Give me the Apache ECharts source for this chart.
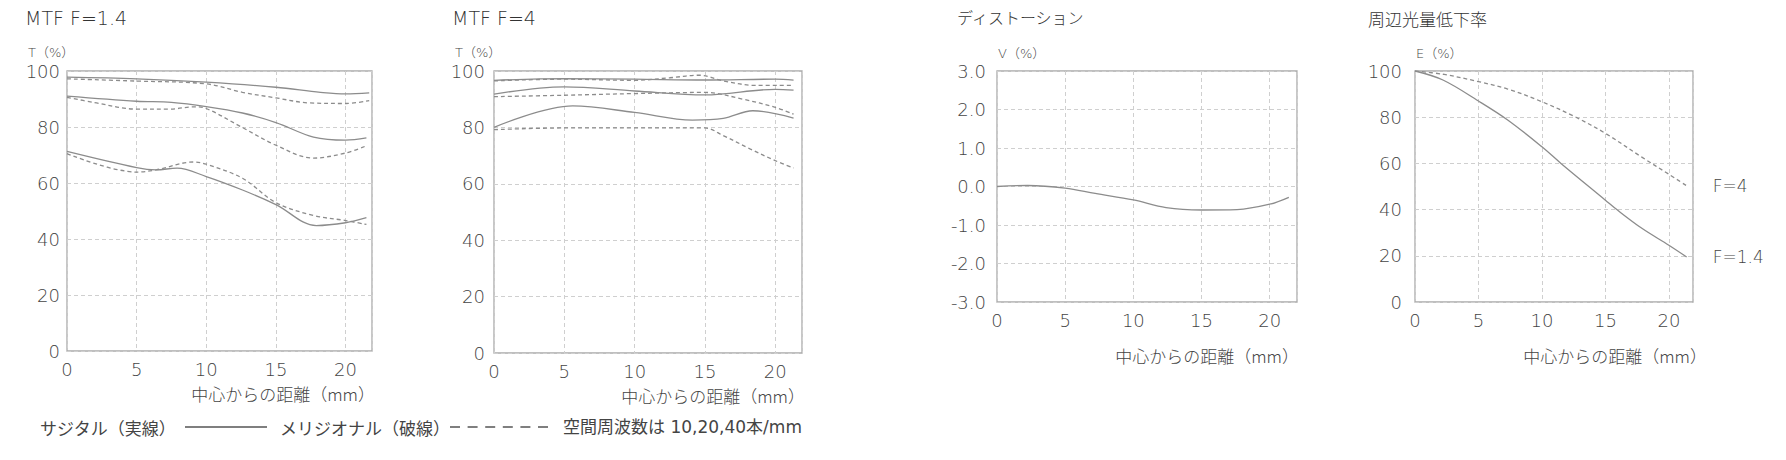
<!DOCTYPE html>
<html>
<head>
<meta charset="utf-8">
<script src="https://cdn.jsdelivr.net/npm/echarts@6/dist/echarts.min.js"></script>
<style>
html,body{margin:0;padding:0;background:#fff;}
#c{width:1786px;height:460px;}
</style>
</head>
<body>
<div id="c"></div>
<script>
// ---- Data ----
// MTF F=1.4 (x: distance from center mm, y: contrast %)
const f14Sag10 = [[0,97.8],[5,97.2],[10,96.0],[15,94.2],[18.2,92.4],[20,91.8],[21.7,92.2]];
const f14Mer10 = [[0,97.2],[5,96.4],[10,95.4],[12.6,92.4],[15,90.4],[17.4,88.6],[20,88.4],[21.7,89.4]];
const f14Sag20 = [[0,91.0],[5,89.2],[7.5,88.8],[10,87.3],[12.6,85.0],[15,81.6],[17.7,76.4],[20,75.3],[21.5,76.1]];
const f14Mer20 = [[0,90.6],[1.9,88.8],[5,86.4],[7.4,86.4],[9.1,87.2],[10,86.6],[12.6,79.8],[15,73.5],[17.7,68.9],[20,70.7],[21.5,73.3]];
const f14Sag40 = [[0,71.3],[5,65.5],[6.4,64.7],[7.9,65.3],[10,62.3],[12.6,57.5],[15,52.3],[17.9,44.8],[20,45.8],[21.5,47.6]];
const f14Mer40 = [[0,70.5],[5,63.9],[6.4,64.7],[9.1,67.5],[10,66.7],[12.6,61.7],[15,53.0],[17.7,48.4],[20,46.6],[21.5,45.2]];
// MTF F=4
const f4Sag10 = [[0,96.7],[5,97.3],[10,97.1],[15,96.8],[20,97.1],[21.3,96.8]];
const f4Mer10 = [[0,96.5],[5,97.1],[10,96.7],[12.5,97.6],[14.6,98.5],[16.3,96.5],[18.6,94.9],[21.3,94.9]];
const f4Sag20 = [[0,91.8],[5,94.4],[10,92.9],[15,91.5],[20,93.5],[21.3,93.2]];
const f4Mer20 = [[0,90.9],[5,91.4],[10,92.0],[15,92.4],[17.7,90.0],[20,87.1],[21.3,84.7]];
const f4Sag40 = [[0,80.0],[5.6,87.6],[10,85.3],[14.1,82.6],[16.3,83.2],[18.4,85.9],[21.3,83.3]];
const f4Mer40 = [[0,79.2],[5,79.8],[10,79.8],[15,79.8],[16.3,77.1],[18.2,72.4],[20,68.2],[21.3,65.6]];
// Distortion (%)
const distortion = [[0,0],[2.25,0.026],[5,-0.04],[7.2,-0.18],[10,-0.35],[12.4,-0.55],[15,-0.61],[17.6,-0.60],[20,-0.46],[21.4,-0.28]];
// Vignetting (%)
const vigF14 = [[0,100],[2.2,96.1],[5,87.0],[7.3,78.8],[10,67.2],[11.5,60.0],[15,44.1],[15.9,40.0],[17.9,31.8],[20,24.6],[21.4,19.5]];
const vigF4 = [[0,100],[2.2,98.6],[5,95.4],[7.3,92.2],[10,86.7],[12.6,80.2],[15,73.0],[17.9,62.6],[20,55.3],[21.4,50.3]];

const chartTitles = ['MTF F=1.4','MTF F=4','ディストーション','周辺光量低下率'];
const unitLabels = ['T（%）','T（%）','V（%）','E（%）'];
const xName = '中心からの距離（mm）';
const legendSag = 'サジタル（実線）';
const legendMer = 'メリジオナル（破線）';
const freqNote = '空間周波数は 10,20,40本/mm';
const endLabels = ['F=1.4','F=4'];

// ---- Styles ----
const LAT = "'DejaVu Sans','Noto Sans CJK JP',sans-serif";
const JP = "'Noto Sans CJK JP',sans-serif";
const LW = 200;   // light weight for Latin text
const JW = 300;   // light weight for Japanese text
const lineColor = '#8c8c8c';
const dashPat = [4,3];

const grids = [
  {left:67, top:71, width:305, height:280},
  {left:494, top:71, width:308, height:282},
  {left:997, top:71, width:300, height:231},
  {left:1415, top:71, width:278, height:231}
];
const labelMarginsY = [7, 9, 11, 13];

function xAxis(i, max){
  return {type:'value', gridIndex:i, min:0, max:max, interval:5,
    axisLine:{show:false}, axisTick:{show:false},
    axisLabel:{showMaxLabel:false, margin:9, fontSize:18, color:'#444', fontFamily:LAT, fontWeight:LW},
    splitLine:{show:true, lineStyle:{type:[4,3], color:'#cfcfcf', width:1}}};
}
function yAxis(i, min, max, interval, fmt){
  return {type:'value', gridIndex:i, min:min, max:max, interval:interval,
    axisLine:{show:false}, axisTick:{show:false},
    axisLabel:{margin:labelMarginsY[i], fontSize:18, color:'#444', fontFamily:LAT, fontWeight:LW, formatter:fmt},
    splitLine:{show:true, lineStyle:{type:[4,3], color:'#cfcfcf', width:1}}};
}
function ser(i, data, dashed, extra){
  return Object.assign({type:'line', xAxisIndex:i, yAxisIndex:i, data:data, smooth:0.35,
    symbol:'none', silent:true,
    lineStyle:{color:lineColor, width:1.3, type: dashed ? dashPat : 'solid'}}, extra||{});
}

function txt(x, y, text, size, family, weight, align, color){
  return {type:'text', x:x, y:y, silent:true,
    style:{text:text, fontSize:size, fontFamily:family, fontWeight:weight, fill:color||'#444',
      align:align||'left', verticalAlign:'middle'}};
}

const endLabelStyle = {show:true, distance:26, fontSize:17, color:'#444', fontFamily:LAT, fontWeight:LW};

const option = {
  animation:false,
  grid: grids.map(g => Object.assign({show:true, borderColor:'#aaaaaa', borderWidth:1.3, backgroundColor:'transparent'}, g)),
  xAxis:[xAxis(0,21.9), xAxis(1,21.9), xAxis(2,22), xAxis(3,21.9)],
  yAxis:[yAxis(0,0,100,20), yAxis(1,0,100,20), yAxis(2,-3,3,1, v => v.toFixed(1)), yAxis(3,0,100,20)],
  series:[
    ser(0,f14Sag10,false), ser(0,f14Mer10,true), ser(0,f14Sag20,false), ser(0,f14Mer20,true), ser(0,f14Sag40,false), ser(0,f14Mer40,true),
    ser(1,f4Sag10,false), ser(1,f4Mer10,true), ser(1,f4Sag20,false), ser(1,f4Mer20,true), ser(1,f4Sag40,false), ser(1,f4Mer40,true),
    ser(2,distortion,false),
    ser(3,vigF14,false,{endLabel:Object.assign({formatter:endLabels[0]}, endLabelStyle)}),
    ser(3,vigF4,true,{endLabel:Object.assign({formatter:endLabels[1]}, endLabelStyle)})
  ],
  graphic:[
    txt(25,18,chartTitles[0],19,LAT,LW,'left','#333'),
    txt(452,18,chartTitles[1],19,LAT,LW,'left','#333'),
    txt(957,17,chartTitles[2],16,JP,JW,'left','#333'),
    txt(1368,18,chartTitles[3],17,JP,JW,'left','#333'),
    txt(28,52,unitLabels[0],13,LAT,LW,'left','#444'),
    txt(455,52,unitLabels[1],13,LAT,LW,'left','#444'),
    txt(998,53,unitLabels[2],13,LAT,LW,'left','#444'),
    txt(1416,53,unitLabels[3],13,LAT,LW,'left','#444'),
    txt(375,393,xName,17,JP,JW,'right','#444'),
    txt(805,395,xName,17,JP,JW,'right','#444'),
    txt(1299,355,xName,17,JP,JW,'right','#444'),
    txt(1707,355,xName,17,JP,JW,'right','#444'),
    txt(40,427,legendSag,17,JP,'normal','left','#444'),
    {type:'line', silent:true, shape:{x1:185,y1:427,x2:267,y2:427}, style:{stroke:'#555', lineWidth:1.6}},
    txt(280,427,legendMer,17,JP,'normal','left','#444'),
    {type:'line', silent:true, shape:{x1:450,y1:427,x2:548,y2:427}, style:{stroke:'#555', lineWidth:1.6, lineDash:[10,7.6]}},
    txt(563,427,freqNote,17,LAT,'normal','left','#444')
  ]
};

const chart = echarts.init(document.getElementById('c'), null, {renderer:'svg'});
chart.setOption(option);
</script>
</body>
</html>
